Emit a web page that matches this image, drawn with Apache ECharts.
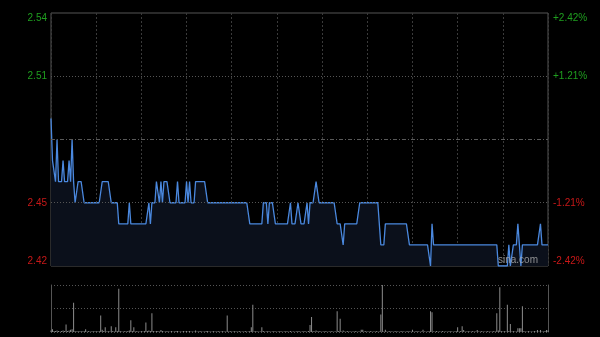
<!DOCTYPE html>
<html>
<head>
<meta charset="utf-8">
<script src="https://cdn.jsdelivr.net/npm/echarts@6/dist/echarts.min.js"></script>
<style>
html,body{margin:0;padding:0;background:#000;}
#c{width:600px;height:337px;}
</style>
</head>
<body>
<div id="c"></div>
<script>
// ---- data ----
const prevClose = 2.48;
const priceMin = 2.42;
const priceMax = 2.54;
const priceTicks = [2.42, 2.45, 2.51, 2.54];
const priceGridLines = [2.51, 2.45];

// minute prices, one row per 30 minutes
const prices = [
  2.49,2.47,2.47,2.46,2.48,2.46,2.46,2.46,2.47,2.46,2.46,2.46,2.47,2.46,2.48,2.46,2.45,2.45,2.46,2.46,2.46,2.46,2.45,2.45,2.45,2.45,2.45,2.45,2.45,2.45,
  2.45,2.45,2.45,2.45,2.46,2.46,2.46,2.46,2.46,2.46,2.45,2.45,2.45,2.45,2.45,2.44,2.44,2.44,2.44,2.44,2.44,2.44,2.45,2.44,2.44,2.44,2.44,2.44,2.44,2.44,
  2.44,2.44,2.44,2.44,2.44,2.45,2.44,2.45,2.45,2.45,2.46,2.46,2.45,2.46,2.45,2.46,2.46,2.46,2.46,2.45,2.45,2.45,2.45,2.45,2.46,2.45,2.45,2.45,2.45,2.45,
  2.46,2.45,2.46,2.45,2.45,2.45,2.46,2.46,2.46,2.46,2.46,2.46,2.46,2.46,2.45,2.45,2.45,2.45,2.45,2.45,2.45,2.45,2.45,2.45,2.45,2.45,2.45,2.45,2.45,2.45,
  2.45,2.45,2.45,2.45,2.45,2.45,2.45,2.45,2.45,2.45,2.45,2.45,2.44,2.44,2.44,2.44,2.44,2.44,2.44,2.44,2.44,2.45,2.45,2.45,2.44,2.45,2.45,2.45,2.45,2.44,
  2.44,2.44,2.44,2.44,2.44,2.44,2.44,2.44,2.44,2.45,2.44,2.44,2.44,2.44,2.45,2.45,2.44,2.44,2.44,2.44,2.45,2.44,2.45,2.45,2.45,2.45,2.46,2.46,2.45,2.45,
  2.45,2.45,2.45,2.45,2.45,2.45,2.45,2.45,2.45,2.45,2.44,2.44,2.44,2.44,2.43,2.44,2.44,2.44,2.44,2.44,2.44,2.44,2.44,2.44,2.44,2.45,2.45,2.45,2.45,2.45,
  2.45,2.45,2.45,2.45,2.45,2.45,2.45,2.45,2.45,2.43,2.43,2.43,2.44,2.44,2.44,2.44,2.44,2.44,2.44,2.44,2.44,2.44,2.44,2.44,2.44,2.44,2.44,2.44,2.43,2.43,
  2.43,2.43,2.43,2.43,2.43,2.43,2.43,2.43,2.43,2.43,2.43,2.43,2.42,2.44,2.43,2.43,2.43,2.43,2.43,2.43,2.43,2.43,2.43,2.43,2.43,2.43,2.43,2.43,2.43,2.43,
  2.43,2.43,2.43,2.43,2.43,2.43,2.43,2.43,2.43,2.43,2.43,2.43,2.43,2.43,2.43,2.43,2.43,2.43,2.43,2.43,2.43,2.43,2.43,2.43,2.43,2.43,2.43,2.42,2.42,2.42,
  2.42,2.42,2.42,2.42,2.43,2.42,2.42,2.43,2.43,2.43,2.44,2.43,2.42,2.43,2.43,2.43,2.43,2.43,2.43,2.43,2.43,2.43,2.43,2.43,2.43,2.44,2.43,2.43,2.43,2.43,
  2.43
];

// minute volumes (relative units, panel top = 100)
const volumes = [
  3,6,2,2,3,2,1,2,3,2,16,2,3,5,6,62,2,1,2,1,2,1,2,6,1,2,1,1,2,1,
  2,1,2,35,5,2,10,1,2,1,12,2,1,10,2,92,2,1,1,2,1,2,3,25,2,10,1,2,1,1,
  2,1,2,20,2,3,2,40,2,1,2,2,1,4,2,1,1,2,1,1,2,1,1,2,2,1,1,1,2,1,
  2,1,2,1,1,1,3,1,1,2,1,1,1,2,2,1,1,1,2,1,1,2,1,1,2,1,1,35,1,2,
  1,1,2,1,1,2,1,1,1,2,1,1,2,10,58,1,2,1,1,1,10,2,1,1,2,1,1,1,2,1,
  1,1,2,1,1,1,2,1,1,2,1,1,1,1,2,1,1,1,2,1,1,2,15,32,2,1,3,1,2,1,
  1,1,2,1,1,1,2,1,1,1,44,2,28,1,3,1,1,2,1,1,1,1,2,1,1,1,5,5,1,2,
  1,1,2,1,1,1,2,1,1,37,100,1,5,1,1,2,1,1,1,2,1,1,1,2,1,1,1,2,1,1,
  5,1,1,2,1,1,1,5,1,1,1,2,44,42,1,1,2,1,1,1,2,1,1,1,1,2,1,1,1,2,
  10,1,2,12,4,1,1,2,1,1,2,1,1,4,1,1,2,1,1,1,2,1,1,1,2,1,40,3,95,2,
  1,2,1,58,2,17,1,2,1,1,8,8,8,55,2,1,1,2,1,1,1,2,1,4,1,4,1,1,2,4,
  3
];

// minute categories: 09:30-12:00, 13:01-16:00
const categories = [];
function pad(n){return (n<10?'0':'')+n;}
for (let t = 9*60+30; t <= 12*60; t++) categories.push(pad(Math.floor(t/60))+':'+pad(t%60));
for (let t = 13*60+1; t <= 16*60; t++) categories.push(pad(Math.floor(t/60))+':'+pad(t%60));

// ---- chart ----
const green = '#1f9f1f';
const red = '#c81818';
const labelFont = {fontFamily: 'Liberation Sans, Arial, sans-serif', fontSize: 10};
function isTick(v){ return priceTicks.some(t => Math.abs(t - Number(v)) < 1e-6); }

const chart = echarts.init(document.getElementById('c'), null, {renderer: 'canvas'});
chart.setOption({
  backgroundColor: '#000',
  animation: false,
  grid: [
    {left: 51, right: 52, top: 13, height: 253, show: true, borderColor: '#555', borderWidth: 1, backgroundColor: 'transparent'},
    {left: 51, right: 52, top: 285, height: 47, show: false}
  ],
  xAxis: [
    {type: 'category', gridIndex: 0, data: categories, boundaryGap: false,
     axisLine: {show: false}, axisTick: {show: false}, axisLabel: {show: false},
     splitLine: {show: true, interval: 29, lineStyle: {color: '#3a3a3a', width: 1, type: [2, 2]}}},
    {type: 'category', gridIndex: 1, data: categories, boundaryGap: false,
     axisLine: {show: false}, axisTick: {show: false}, axisLabel: {show: false},
     splitLine: {show: false}}
  ],
  yAxis: [
    {type: 'value', gridIndex: 0, position: 'left', min: priceMin, max: priceMax, interval: 0.01,
     axisLine: {show: false}, axisTick: {show: false}, splitLine: {show: false},
     axisLabel: Object.assign({show: true, margin: 4, showMinLabel: true, showMaxLabel: true,
       verticalAlignMinLabel: 'bottom', verticalAlignMaxLabel: 'top',
       formatter: v => isTick(v) ? Number(v).toFixed(2) : '',
       color: v => Number(v) > prevClose ? green : red}, labelFont)},
    {type: 'value', gridIndex: 0, position: 'right', min: priceMin, max: priceMax, interval: 0.01,
     axisLine: {show: false}, axisTick: {show: false}, splitLine: {show: false},
     axisLabel: Object.assign({show: true, margin: 5, showMinLabel: true, showMaxLabel: true,
       verticalAlignMinLabel: 'bottom', verticalAlignMaxLabel: 'top',
       formatter: v => {
         if (!isTick(v)) return '';
         const p = (Number(v) - prevClose) / prevClose * 100;
         return (p > 0 ? '+' : '') + p.toFixed(2) + '%';
       },
       color: v => Number(v) > prevClose ? green : red}, labelFont)},
    {type: 'value', gridIndex: 1, position: 'left', min: 0, max: 100, interval: 50,
     axisLine: {show: true, lineStyle: {color: '#555', width: 1}}, axisTick: {show: false}, axisLabel: {show: false},
     splitLine: {show: true, lineStyle: {color: '#555', width: 1, type: [1, 2]}}},
    {type: 'value', gridIndex: 1, position: 'right', min: 0, max: 100, interval: 50,
     axisLine: {show: true, lineStyle: {color: '#555', width: 1}}, axisTick: {show: false}, axisLabel: {show: false},
     splitLine: {show: false}}
  ],
  series: [
    {type: 'line', xAxisIndex: 0, yAxisIndex: 0, data: prices, symbol: 'none', showSymbol: false,
     lineStyle: {color: '#4a88de', width: 1.3},
     areaStyle: {color: '#0b101b', origin: 'start', opacity: 1},
     z: 3,
     markLine: {silent: true, symbol: ['none', 'none'], label: {show: false}, animation: false,
       data: [
         {yAxis: prevClose, lineStyle: {color: '#5a5a5a', width: 1, type: [4, 2, 1, 2]}},
         {yAxis: priceGridLines[0], lineStyle: {color: '#555', width: 1, type: [1, 2]}},
         {yAxis: priceGridLines[1], lineStyle: {color: '#555', width: 1, type: [1, 2]}}
       ]}
    },
    {type: 'bar', xAxisIndex: 1, yAxisIndex: 2, data: volumes, barWidth: 1,
     itemStyle: {color: '#8c8c8c'}}
  ],
  graphic: [
    {type: 'text', left: 498, top: 255, silent: true, z: 10,
     style: {text: 'sina.com', fill: 'rgba(175,175,175,0.8)', font: '10px Liberation Sans, Arial, sans-serif'}}
  ]
});
</script>
</body>
</html>
